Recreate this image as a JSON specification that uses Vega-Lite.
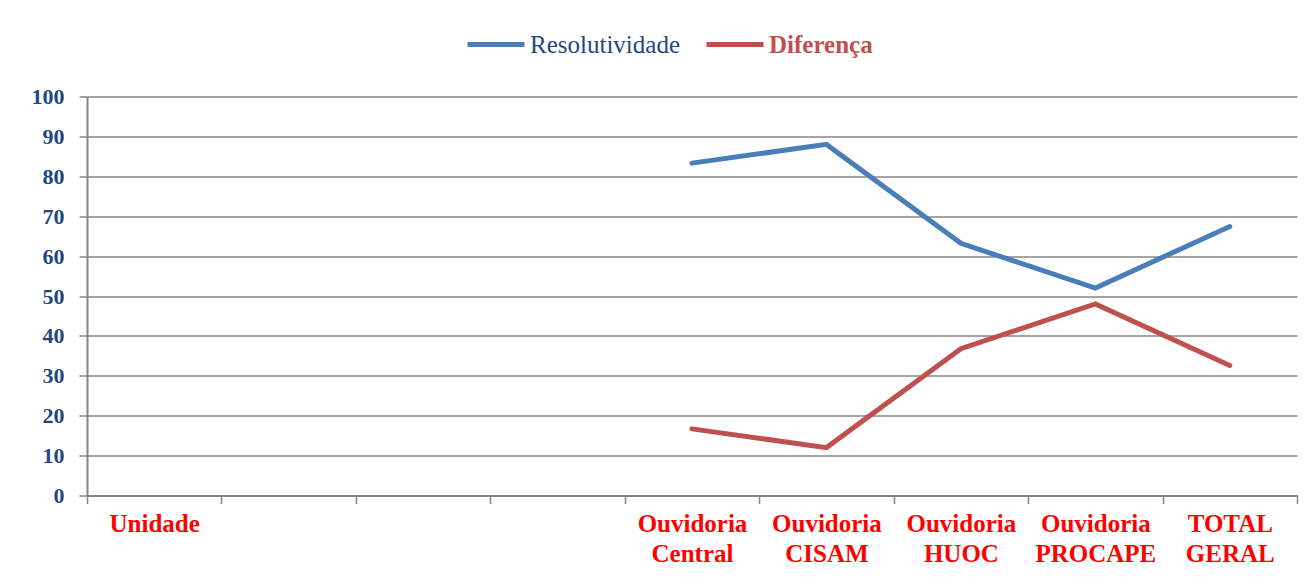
{
  "$schema": "https://vega.github.io/schema/vega-lite/v6.json",
  "width": 1210,
  "height": 399,
  "autosize": {"type": "none"},
  "padding": {"left": 87, "top": 96.5, "right": 11, "bottom": 91.5},
  "background": "white",
  "config": {"view": {"stroke": null}},
  "data": {
    "values": [
      {"unidade": "Ouvidoria Central", "serie": "Resolutividade", "valor": 83.3},
      {"unidade": "Ouvidoria CISAM", "serie": "Resolutividade", "valor": 88.0},
      {"unidade": "Ouvidoria HUOC", "serie": "Resolutividade", "valor": 63.2},
      {"unidade": "Ouvidoria PROCAPE", "serie": "Resolutividade", "valor": 52.0},
      {"unidade": "TOTAL GERAL", "serie": "Resolutividade", "valor": 67.4},
      {"unidade": "Ouvidoria Central", "serie": "Diferença", "valor": 16.7},
      {"unidade": "Ouvidoria CISAM", "serie": "Diferença", "valor": 12.0},
      {"unidade": "Ouvidoria HUOC", "serie": "Diferença", "valor": 36.8},
      {"unidade": "Ouvidoria PROCAPE", "serie": "Diferença", "valor": 48.0},
      {"unidade": "TOTAL GERAL", "serie": "Diferença", "valor": 32.6}
    ]
  },
  "mark": {"type": "line", "strokeWidth": 5, "strokeCap": "round", "strokeJoin": "miter"},
  "encoding": {
    "x": {
      "field": "unidade",
      "type": "nominal",
      "bandPosition": 0.5,
      "scale": {
        "type": "band",
        "domain": ["Unidade", "_1", "_2", "_3", "Ouvidoria Central", "Ouvidoria CISAM", "Ouvidoria HUOC", "Ouvidoria PROCAPE", "TOTAL GERAL"],
        "paddingInner": 0,
        "paddingOuter": 0
      },
      "axis": {
        "title": null,
        "labelAngle": 0,
        "labelExpr": "indexof(datum.label, '_') == 0 ? '' : split(datum.label, ' ')",
        "labelFont": "Liberation Serif",
        "labelFontSize": 25,
        "labelFontWeight": "bold",
        "labelColor": "#FF0000",
        "labelLineHeight": 30,
        "labelPadding": 8,
        "labelOverlap": false,
        "labelLimit": 0,
        "tickBand": "extent",
        "ticks": true,
        "tickSize": 8,
        "tickColor": "#868686",
        "tickWidth": 1.5,
        "domainColor": "#868686",
        "domainWidth": 2,
        "grid": false
      }
    },
    "y": {
      "field": "valor",
      "type": "quantitative",
      "scale": {"domain": [0, 100], "nice": false},
      "axis": {
        "title": null,
        "values": [0, 10, 20, 30, 40, 50, 60, 70, 80, 90, 100],
        "labelFont": "Liberation Serif",
        "labelFontSize": 22,
        "labelFontWeight": "bold",
        "labelColor": "#1F497D",
        "labelPadding": 15,
        "tickSize": 8,
        "tickColor": "#868686",
        "tickWidth": 1.5,
        "domainColor": "#868686",
        "domainWidth": 2,
        "grid": true,
        "gridColor": "#868686",
        "gridWidth": 1.5
      }
    },
    "color": {
      "field": "serie",
      "type": "nominal",
      "scale": {"domain": ["Resolutividade", "Diferença"], "range": ["#4A7EBB", "#C0504D"]},
      "legend": {
        "title": null,
        "orient": "none",
        "direction": "horizontal",
        "legendX": 378,
        "legendY": -83,
        "symbolType": "stroke",
        "symbolStrokeWidth": 5,
        "symbolSize": 3249,
        "labelFont": "Liberation Serif",
        "labelFontSize": 25,
        "labelOffset": 3,
        "columnPadding": 16,
        "encode": {
          "labels": {
            "update": {
              "fill": {"signal": "datum.label == 'Diferença' ? '#C0504D' : '#1F497D'"},
              "fontWeight": {"signal": "datum.label == 'Diferença' ? 'bold' : 'normal'"}
            }
          }
        }
      }
    }
  }
}
